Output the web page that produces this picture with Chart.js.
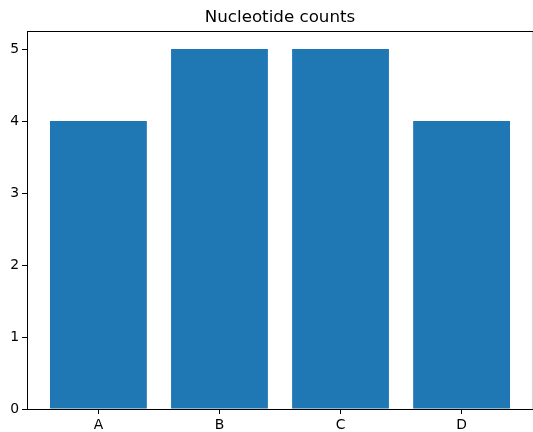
<!DOCTYPE html>
<html>
<head>
<meta charset="utf-8">
<script src="https://cdn.jsdelivr.net/npm/chart.js@4"></script>
<style>
  html, body { margin: 0; padding: 0; background: #fff; }
  #wrap { width: 533px; height: 432px; }
</style>
</head>
<body>
<div id="wrap"><canvas id="grafica"></canvas></div>
<script>
// datos
const categorias = ['A', 'B', 'C', 'D'];
const posiciones = [0, 1, 2, 3];
const conteos = [4, 5, 5, 4];
const yTicks = [0, 1, 2, 3, 4, 5];
const titulo = 'Nucleotide counts';

const fuente = 'DejaVu Sans';

// marco superior/derecho y titulo (estilo matplotlib)
const marco = {
    id: 'marco',
    afterDraw(chart) {
        const { ctx, chartArea: a } = chart;
        ctx.save();
        ctx.lineWidth = 1;
        // borde superior
        ctx.strokeStyle = '#000';
        ctx.beginPath();
        ctx.moveTo(a.left, a.top + 0.5);
        ctx.lineTo(a.right, a.top + 0.5);
        ctx.stroke();
        // borde derecho (casi recortado en la imagen)
        ctx.strokeStyle = '#d8d8d8';
        ctx.beginPath();
        ctx.moveTo(a.right - 0.5, a.top + 1);
        ctx.lineTo(a.right - 0.5, a.bottom);
        ctx.stroke();
        // titulo
        ctx.fillStyle = '#000';
        ctx.font = '16.7px "' + fuente + '"';
        ctx.textAlign = 'center';
        ctx.textBaseline = 'alphabetic';
        ctx.fillText(titulo, (a.left + a.right) / 2, 21.5);
        ctx.restore();
    }
};

const ctx = document.getElementById('grafica').getContext('2d');
new Chart(ctx, {
    type: 'bar',
    data: {
        datasets: [{
            data: posiciones.map((x, i) => ({ x: x, y: conteos[i] })),
            backgroundColor: '#1f77b4',
            borderWidth: 0,
            barPercentage: 0.8,
            categoryPercentage: 1.0
        }]
    },
    options: {
        responsive: true,
        maintainAspectRatio: false,
        animation: false,
        events: [],
        layout: { padding: { top: 31, left: 0, right: 0, bottom: 0 } },
        plugins: {
            legend: { display: false },
            title: { display: false },
            tooltip: { enabled: false }
        },
        scales: {
            x: {
                type: 'linear',
                min: -0.59,
                max: 3.59,
                offset: false,
                afterBuildTicks: (scale) => {
                    scale.ticks = posiciones.map(v => ({ value: v }));
                },
                afterFit: (scale) => { scale.height = 23; },
                grid: { display: true, offset: false, drawOnChartArea: false, drawTicks: true, tickLength: 5, tickColor: '#000' },
                border: { display: true, color: '#000', width: 1 },
                ticks: {
                    autoSkip: false,
                    maxRotation: 0,
                    padding: 3,
                    color: '#000',
                    font: { family: fuente, size: 13.9 },
                    callback: (v, i) => categorias[i]
                }
            },
            y: {
                min: 0,
                max: 5.25,
                afterBuildTicks: (scale) => {
                    scale.ticks = yTicks.map(v => ({ value: v }));
                },
                afterFit: (scale) => { scale.width = 27; },
                grid: { display: true, drawOnChartArea: false, drawTicks: true, tickLength: 5, tickColor: '#000' },
                border: { display: true, color: '#000', width: 1 },
                ticks: {
                    padding: 3,
                    color: '#000',
                    font: { family: fuente, size: 13.9 }
                }
            }
        }
    },
    plugins: [marco]
});
</script>
</body>
</html>
